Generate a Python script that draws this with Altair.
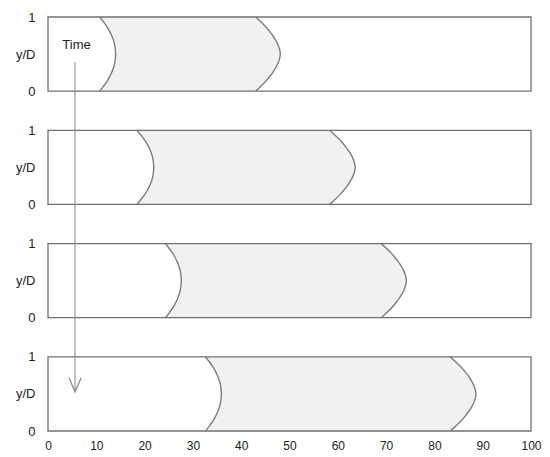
import altair as alt
import pandas as pd

# ---- values ----
panels = [0, 1, 2, 3]                      # top to bottom (later in time)
left_wall = [10.7, 18.4, 24.3, 32.6]       # left boundary at y/D = 0 and 1
left_apex = [14.0, 21.9, 27.6, 35.9]       # left boundary at y/D = 0.5
right_wall = [43.0, 58.3, 69.0, 83.3]      # right boundary at y/D = 0 and 1
right_apex = [48.1, 63.6, 74.2, 88.6]      # right boundary at y/D = 0.5

yD_levels = [0, 0.0625, 0.125, 0.1875, 0.25, 0.3125, 0.375, 0.4375, 0.5,
             0.5625, 0.625, 0.6875, 0.75, 0.8125, 0.875, 0.9375, 1]
left_profile = [0, 0.23, 0.44, 0.61, 0.75, 0.86, 0.94, 0.98, 1,
                0.98, 0.94, 0.86, 0.75, 0.61, 0.44, 0.23, 0]
right_profile = [0, 0.20, 0.39, 0.55, 0.69, 0.81, 0.905, 0.97, 1,
                 0.97, 0.905, 0.81, 0.69, 0.55, 0.39, 0.20, 0]

x_ticks = [0, 10, 20, 30, 40, 50, 60, 70, 80, 90, 100]
time_label = "Time"
time_x = 5.9
time_yD = 0.62
arrow_x = 5.6
arrow_start_yD = 0.39   # in top panel
arrow_tip_yD = 0.53     # in bottom panel

# ---- layout: stack panels on one shared y scale ----
GAP = 0.53
def base(k):
    return (3 - k) * (1 + GAP)

YMAX = base(0) + 1

rows = []
for k in panels:
    for yd, lp, rp in zip(yD_levels, left_profile, right_profile):
        rows.append({
            "panel": k,
            "y": base(k) + yd,
            "left": left_wall[k] + lp * (left_apex[k] - left_wall[k]),
            "right": right_wall[k] + rp * (right_apex[k] - right_wall[k]),
        })
prof = pd.DataFrame(rows)

curves = pd.concat([
    prof.assign(side="L", xv=prof["left"]),
    prof.assign(side="R", xv=prof["right"]),
])
curves["key"] = curves["panel"].astype(str) + curves["side"]

frames = pd.DataFrame({
    "panel": panels,
    "x0": [0] * 4, "x1": [100] * 4,
    "y0": [base(k) for k in panels],
    "y1": [base(k) + 1 for k in panels],
})

ytick_values = []
for k in panels:
    ytick_values += [base(k), base(k) + 0.5, base(k) + 1]

FONT = "Liberation Sans"
TXT = "#222222"
m = 1 + GAP
yaxis = alt.Axis(
    values=ytick_values, title=None, ticks=False, domain=False, grid=False,
    labelFlush=False, labelOverlap=False, labelPadding=13,
    labelFontSize=13, labelColor=TXT, labelFont=FONT,
    labelExpr=(f"(datum.value % {m}) > 1.3 || (datum.value % {m}) < 0.25 ? '0' : "
               f"((datum.value % {m}) < 0.75 ? 'y/D' : '1')"),
)
xaxis = alt.Axis(
    values=x_ticks, title=None, ticks=False, domain=False, grid=False,
    labelFlush=False, labelPadding=9, labelFontSize=12,
    labelColor=TXT, labelFont=FONT,
)
xs = alt.Scale(domain=[0, 100], nice=False, zero=False)
ys = alt.Scale(domain=[0, YMAX], nice=False, zero=False)

area = alt.Chart(prof).mark_area(
    orient="horizontal", fill="#f1f1f1", interpolate="catmull-rom"
).encode(
    y=alt.Y("y:Q", scale=ys, axis=yaxis),
    x=alt.X("left:Q", scale=xs, axis=xaxis),
    x2="right:Q",
    detail="panel:N",
)

lines = alt.Chart(curves).mark_line(
    stroke="#7d7d7d", strokeWidth=1.4, interpolate="catmull-rom"
).encode(
    x=alt.X("xv:Q", scale=xs, axis=xaxis),
    y=alt.Y("y:Q", scale=ys, axis=yaxis),
    detail="key:N",
    order="y:Q",
)

box = alt.Chart(frames).mark_rect(
    fillOpacity=0, stroke="#707070", strokeWidth=1.3
).encode(
    x=alt.X("x0:Q", scale=xs, axis=xaxis), x2="x1:Q",
    y=alt.Y("y0:Q", scale=ys, axis=yaxis), y2="y1:Q",
)

arrow_df = pd.DataFrame({
    "x": [arrow_x],
    "ya": [base(0) + arrow_start_yD],
    "yb": [base(3) + arrow_tip_yD],
})
rule = alt.Chart(arrow_df).mark_rule(color="#9a9a9a", strokeWidth=1.2).encode(
    x=alt.X("x:Q", scale=xs, axis=xaxis),
    y=alt.Y("ya:Q", scale=ys, axis=yaxis), y2="yb:Q",
)
head = alt.Chart(arrow_df).mark_point(
    shape="M -1 -2.3 L 0 0 L 1 -2.3", size=144, filled=False,
    stroke="#8a8a8a", strokeWidth=1.3, opacity=1,
).encode(
    x=alt.X("x:Q", scale=xs, axis=xaxis),
    y=alt.Y("yb:Q", scale=ys, axis=yaxis),
)

time_df = pd.DataFrame({"x": [time_x], "y": [base(0) + time_yD], "t": [time_label]})
time_txt = alt.Chart(time_df).mark_text(
    font=FONT, fontSize=13, color=TXT, align="center", baseline="middle"
).encode(
    x=alt.X("x:Q", scale=xs, axis=xaxis),
    y=alt.Y("y:Q", scale=ys, axis=yaxis),
    text="t:N",
)

chart = alt.layer(area, lines, box, rule, head, time_txt).properties(
    width=483, height=414,
    autosize=alt.AutoSizeParams(type="none"),
    padding={"left": 40, "top": 9, "right": 11, "bottom": 22},
    background="white",
).configure_view(strokeWidth=0)

chart.save("out.html", embed_options={"renderer": "svg", "actions": False})
